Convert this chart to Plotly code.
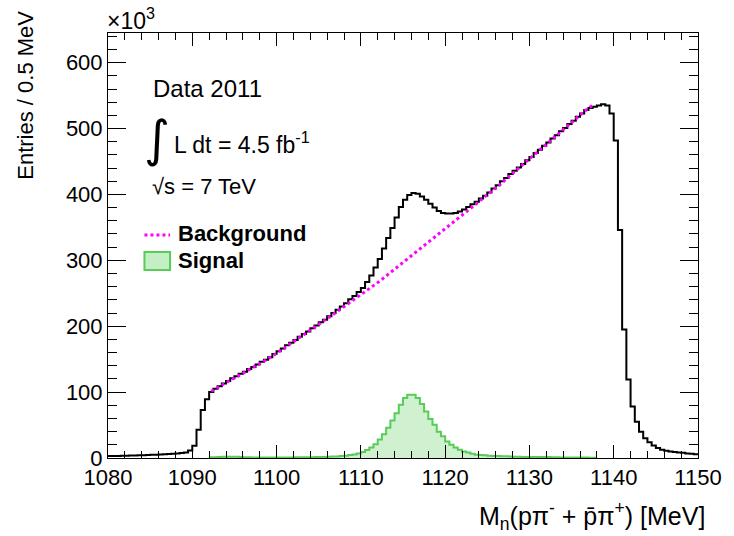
import numpy as np
import plotly.graph_objects as go

# Histogram binning (MeV)
BIN_WIDTH = 0.5
DATA_LOW = 1080.0
SIGNAL_LOW = 1092.0

# Candidate entries per 0.5 MeV bin, in thousands (1080 - 1150 MeV)
data_counts = [
    3.0, 3.1, 3.2, 3.4, 3.5, 3.7, 3.9, 4.1, 4.3, 4.5,
    4.8, 5.1, 5.4, 5.7, 6.1, 6.5, 7.0, 7.6, 8.4, 11.5,
    18.6, 43, 73, 89,
    100, 105, 109, 113, 117, 121, 124, 128, 131, 135,
    138, 142, 146, 149, 153, 158, 162, 166, 171, 175,
    179, 184, 188, 192, 197, 201, 206, 210, 215, 220,
    225, 230, 235, 241, 246, 252, 258, 267, 277, 289,
    302, 318, 334, 349, 365, 381, 392, 399, 402, 401,
    397, 392, 386, 380, 375, 372, 371, 371, 372, 374,
    377, 381, 385, 389, 394, 398, 403, 409, 414, 420,
    425, 431, 436, 441, 446, 452, 457, 463, 468, 474,
    479, 485, 490, 496, 501, 507, 512, 518, 523, 528,
    531, 533,
    535, 537, 535, 523, 482, 346, 195, 119, 78, 55,
    40, 30, 24, 19, 15, 12.6, 11, 10, 9.2, 8.5,
    7.8, 7.0, 6.3, 5.6,
]

# Signal template per 0.5 MeV bin, in thousands (1092 - 1138 MeV)
signal_counts = [
    1.0, 1.2, 1.5, 1.8, 2.0, 2.0, 1.8, 1.5, 1.2, 1.0,
    0.9, 0.8, 0.8, 0.7, 0.7, 0.7, 0.8, 0.8, 0.9, 0.9,
    1.0, 1.0, 1.1, 1.2, 1.3, 1.4, 1.5, 1.7, 1.9, 2.1,
    2.4, 2.9,
    3.5, 4.5, 5.5, 7, 9, 12, 16, 21, 28, 36,
    46, 57, 68, 80.7, 91, 96, 96, 91, 82, 70.6,
    59, 50.5, 40, 33, 25, 20, 16, 12.6, 10, 8.5,
    6.5, 5, 4.5, 4, 3.5, 3.2, 3.0, 2.8, 2.5, 2.3,
    2.0, 1.8, 1.6, 1.5, 1.5, 1.6, 1.7, 1.6, 1.4, 1.2,
    1.0, 0.9, 0.8, 0.8, 0.7, 0.7, 0.6, 0.6, 0.5, 0.5,
]

# Background fit evaluated at the signal-range bin centres, in thousands
background_fit = [
    101.4, 105.0, 108.5, 112.1, 115.7, 119.2, 122.8, 126.4, 130.0, 133.5,
    137.1, 140.6, 144.2, 148.2, 152.5, 156.8, 161.1, 165.4, 169.8, 174.1,
    178.4, 182.7, 187.1, 191.4, 195.7, 200.2, 204.7, 209.2, 213.7, 218.2,
    222.7, 227.2, 231.7, 236.2, 240.7, 245.2, 249.7, 254.2, 258.7, 263.6,
    268.6, 273.7, 278.8, 283.9, 288.9, 294.0, 299.1, 304.2, 309.2, 314.3,
    319.4, 324.5, 329.5, 334.6, 339.7, 344.8, 349.8, 354.9, 360.0, 365.1,
    370.1, 375.2, 380.3, 385.4, 390.5, 395.9, 401.4, 407.0, 412.5, 418.1,
    423.6, 429.2, 434.7, 440.2, 445.8, 451.3, 456.9, 462.4, 468.0, 473.5,
    479.1, 484.6, 490.1, 495.7, 501.2, 506.8, 512.3, 517.9, 523.4, 528.5,
    533.0, 537.0,
]

FONT = "Liberation Sans, Arial, Helvetica, sans-serif"
MAGENTA = "#ff00ff"
GREEN = "rgb(88,204,88)"


def step_outline(low, counts):
    """Bin edges and matching heights for an 'hv' step outline."""
    edges = low + BIN_WIDTH * np.arange(len(counts) + 1)
    heights = list(counts) + [counts[-1]]
    return edges, heights


x_sig, y_sig = step_outline(SIGNAL_LOW, signal_counts)
x_dat, y_dat = step_outline(DATA_LOW, data_counts)
x_bkg = SIGNAL_LOW + BIN_WIDTH * (np.arange(len(background_fit)) + 0.5)

fig = go.Figure()

fig.add_trace(go.Scatter(
    x=x_sig, y=y_sig, mode="lines",
    line=dict(color=GREEN, width=2, shape="hv"),
    fill="tozeroy",
    fillcolor="rgba(255,255,255,0)",
    fillpattern=dict(shape="|", fgcolor="rgb(120,215,120)",
                     bgcolor="rgb(236,250,236)", size=2, solidity=0.5),
    showlegend=False, hoverinfo="skip",
))

fig.add_trace(go.Scatter(
    x=x_dat, y=y_dat, mode="lines",
    line=dict(color="black", width=2, shape="hv"),
    showlegend=False, hoverinfo="skip",
))

fig.add_trace(go.Scatter(
    x=x_bkg, y=background_fit, mode="lines",
    line=dict(color=MAGENTA, width=3, dash="dot"),
    showlegend=False, hoverinfo="skip",
))

L, R, T, B = 108, 27, 33, 78
W, H = 734, 536
plot_h = H - T - B
plot_w = W - L - R


def px(xp):
    return (xp - L) / plot_w


def py(yp):
    return (H - B - yp) / plot_h


axis_common = dict(
    showgrid=False, zeroline=False,
    showline=True, linecolor="black", linewidth=1, mirror="allticks",
    ticks="inside", tickcolor="black", tickwidth=1,
    tickfont=dict(family=FONT, size=22, color="black"),
)

fig.update_xaxes(
    range=[1080, 1150], tick0=1080, dtick=10, ticklen=13,
    minor=dict(dtick=2, ticklen=7, ticks="inside", tickcolor="black"),
    **axis_common,
)
fig.update_yaxes(
    range=[0, 645], tick0=0, dtick=100, ticklen=18,
    minor=dict(dtick=20, ticklen=9, ticks="inside", tickcolor="black"),
    **axis_common,
)

annotations = [
    dict(x=px(24), y=py(9), text="Entries / 0.5 MeV", textangle=-90,
         xanchor="center", yanchor="top", font=dict(family=FONT, size=22)),
    dict(x=px(716), y=py(516), text="M<sub>n</sub>(pπ<sup>-</sup> + p̄π<sup>+</sup>) [MeV]",
         xanchor="right", yanchor="middle", font=dict(family=FONT, size=25)),
    dict(x=px(105), y=py(19), text="×10<sup>3</sup>",
         xanchor="left", yanchor="middle", font=dict(family=FONT, size=23)),
    dict(x=px(152), y=py(88), text="Data 2011",
         xanchor="left", yanchor="middle", font=dict(family=FONT, size=24)),
    dict(x=px(158), y=py(139), text="∫",
         xanchor="center", yanchor="middle",
         font=dict(family="DejaVu Sans", size=50)),
    dict(x=px(173), y=py(143), text="L dt = 4.5 fb<sup>-1</sup>",
         xanchor="left", yanchor="middle", font=dict(family=FONT, size=23)),
    dict(x=px(151), y=py(187), text="√s = 7 TeV",
         xanchor="left", yanchor="middle", font=dict(family=FONT, size=22)),
    dict(x=px(177), y=py(234), text="<b>Background</b>",
         xanchor="left", yanchor="middle", font=dict(family=FONT, size=22)),
    dict(x=px(177), y=py(260), text="<b>Signal</b>",
         xanchor="left", yanchor="middle", font=dict(family=FONT, size=22)),
]
for a in annotations:
    a["xref"] = "paper"
    a["yref"] = "paper"
    a["showarrow"] = False
    a["font"]["color"] = "black"

shapes = [
    dict(type="line", xref="paper", yref="paper",
         x0=px(145), x1=px(171), y0=py(235), y1=py(235),
         line=dict(color=MAGENTA, width=3, dash="dot")),
    dict(type="rect", xref="paper", yref="paper",
         x0=px(145), x1=px(171), y0=py(270), y1=py(252),
         fillcolor="rgb(196,238,196)", line=dict(color=GREEN, width=2)),
]

fig.update_layout(
    width=W, height=H,
    margin=dict(l=L, r=R, t=T, b=B),
    paper_bgcolor="white", plot_bgcolor="white",
    annotations=annotations, shapes=shapes,
    showlegend=False,
)

fig.write_html("out.html")
